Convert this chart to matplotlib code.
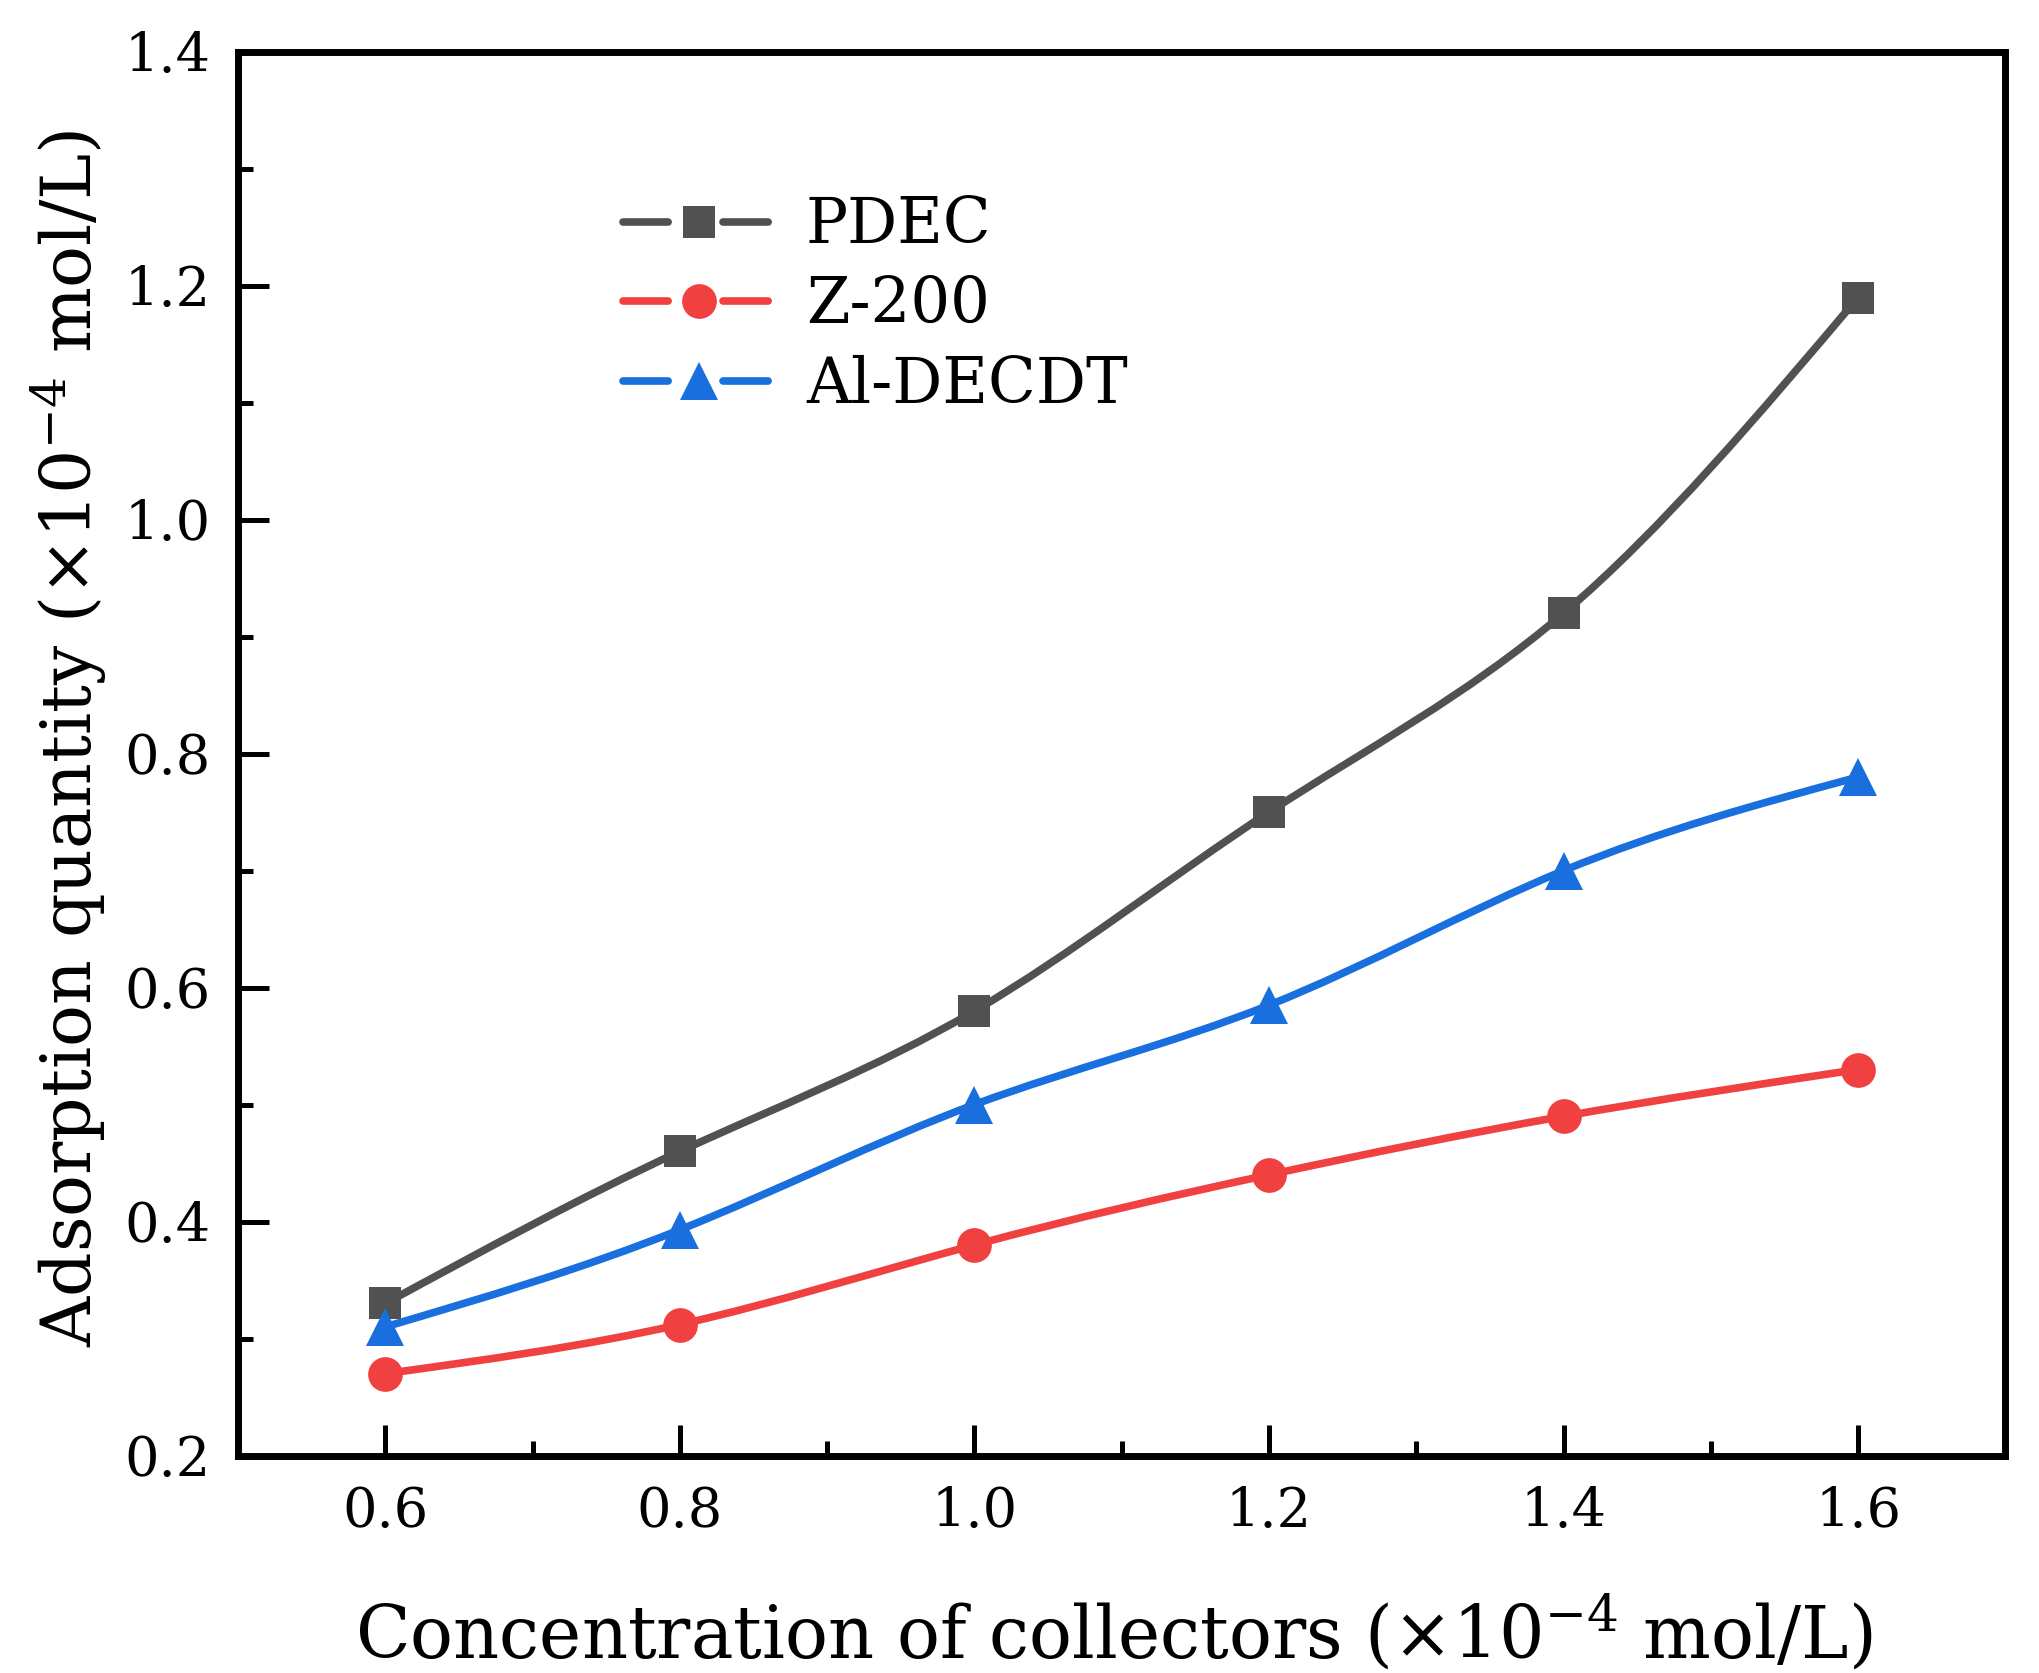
import numpy as np
import matplotlib
matplotlib.use("Agg")
import matplotlib.pyplot as plt
from matplotlib.path import Path
from matplotlib.patches import PathPatch
from matplotlib.lines import Line2D
from matplotlib.legend_handler import HandlerTuple
from matplotlib.ticker import MultipleLocator, FormatStrFormatter

plt.rcParams['font.family'] = ['DejaVu Serif']
plt.rcParams['mathtext.fontset'] = 'dejavuserif'
plt.rcParams['lines.scale_dashes'] = False

# data
conc = [0.6, 0.8, 1.0, 1.2, 1.4, 1.6]
pdec = [0.33, 0.46, 0.58, 0.75, 0.92, 1.19]
z200 = [0.27, 0.312, 0.38, 0.44, 0.49, 0.53]
al_decdt = [0.31, 0.393, 0.50, 0.585, 0.70, 0.78]

names = ['PDEC', 'Z-200', 'Al-DECDT']
colors = ['#515151', '#F14040', '#1A6FDF']
markers = ['s', 'o', '^']
msizes = [23, 25, 28]
LW = 5.5


def spline_path(x, y):
    # natural cubic spline through the points, each piece as a bezier segment
    x = np.asarray(x, float)
    y = np.asarray(y, float)
    n = len(x)
    h = np.diff(x)
    A = np.zeros((n, n))
    r = np.zeros(n)
    A[0, 0] = A[-1, -1] = 1
    for i in range(1, n - 1):
        A[i, i - 1] = h[i - 1]
        A[i, i] = 2 * (h[i - 1] + h[i])
        A[i, i + 1] = h[i]
        r[i] = 6 * ((y[i + 1] - y[i]) / h[i] - (y[i] - y[i - 1]) / h[i - 1])
    M = np.linalg.solve(A, r)
    verts = [(x[0], y[0])]
    codes = [Path.MOVETO]
    for i in range(n - 1):
        s = (y[i + 1] - y[i]) / h[i]
        dl = s - h[i] * (2 * M[i] + M[i + 1]) / 6
        dr = s + h[i] * (M[i] + 2 * M[i + 1]) / 6
        verts += [(x[i] + h[i] / 3, y[i] + h[i] * dl / 3),
                  (x[i + 1] - h[i] / 3, y[i + 1] - h[i] * dr / 3),
                  (x[i + 1], y[i + 1])]
        codes += [Path.CURVE4] * 3
    return Path(verts, codes)


fig = plt.figure(figsize=(20.4, 16.73), dpi=100)
ax = fig.add_axes([0.1167, 0.130, 0.8663, 0.839])

handles = []
for ys, name, c, m, ms in zip([pdec, z200, al_decdt], names, colors, markers, msizes):
    ax.add_patch(PathPatch(spline_path(conc, ys), fill=False, edgecolor=c,
                           lw=LW, capstyle='round', zorder=2))
    ax.plot(conc, ys, ls='none', marker=m, ms=ms, color=c, mew=0, zorder=3)
    # legend: line broken around the marker
    seg = Line2D([], [], color=c, lw=LW, dash_capstyle='round',
                 dashes=(38 - LW, 34 + LW, 38 - LW, 200))
    mk = Line2D([], [], ls='none', marker=m, ms=ms, mew=0, color=c)
    handles.append((seg, mk))

ax.set_xlim(0.5, 1.7)
ax.set_ylim(0.2, 1.4)
ax.xaxis.set_major_locator(MultipleLocator(0.2))
ax.xaxis.set_minor_locator(MultipleLocator(0.1))
ax.yaxis.set_major_locator(MultipleLocator(0.2))
ax.yaxis.set_minor_locator(MultipleLocator(0.1))
ax.xaxis.set_major_formatter(FormatStrFormatter('%.1f'))
ax.yaxis.set_major_formatter(FormatStrFormatter('%.1f'))

for s in ax.spines.values():
    s.set_linewidth(5)
ax.tick_params(which='both', direction='in', top=False, right=False,
               labelsize=39)
ax.tick_params(which='major', length=22, width=3.6)
ax.tick_params(which='minor', length=11, width=3.6)
ax.tick_params(axis='x', pad=22)
ax.tick_params(axis='y', pad=20)

ax.set_xlabel('Concentration of collectors (×10$^{-4}$ mol/L)', fontsize=51.5)
ax.set_ylabel('Adsorption quantity (×10$^{-4}$ mol/L)', fontsize=50)
ax.xaxis.set_label_coords(0.4955, -0.098)
ax.yaxis.set_label_coords(-0.073, 0.511)

ax.legend(handles=handles, labels=names, loc='upper left',
          bbox_to_anchor=(0.2, 0.92), frameon=False, fontsize=45,
          handlelength=2.45, handletextpad=0.48, labelspacing=0.3,
          borderpad=0, handler_map={tuple: HandlerTuple(ndivide=1, pad=0)})

fig.savefig('out.png', dpi=100)
plt.close(fig)
